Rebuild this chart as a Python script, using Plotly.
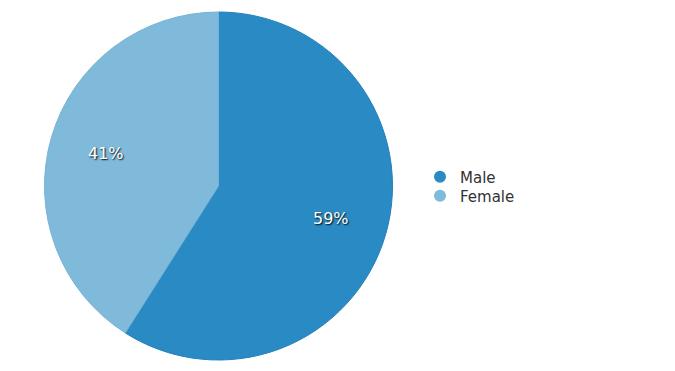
import math
import plotly.graph_objects as go

labels = ["Male", "Female"]
values = [59, 41]
colors = ["#2a8ac4", "#7fbadb"]
edge_colors = ["#2180bb", "#76b3d6"]

W, H = 675, 371
PL, PR, PT, PB = 44, 393, 12, 360  # pie bounding box in px
cx_px = (PL + PR) / 2
cy_px = (PT + PB) / 2
R_px = (PR - PL) / 2
plot_h = H - 12 - 11

fig = go.Figure()
fig.add_trace(go.Pie(
    labels=labels, values=values, sort=False, direction="clockwise", rotation=0,
    marker=dict(colors=colors, line=dict(color=edge_colors, width=1)),
    textinfo="none",
    hoverinfo="label+percent",
    domain=dict(x=[PL / W, PR / W], y=[0, 1]),
    showlegend=False,
))

# percent labels placed at 0.67 of radius along each slice's mid-angle
total = sum(values)
cum = 0
for v in values:
    mid = (cum + v / 2) / total * 2 * math.pi
    cum += v
    r = 0.67 * R_px
    xpx = cx_px + r * math.sin(mid)
    ypx = cy_px - r * math.cos(mid)
    fig.add_annotation(
        x=xpx / W, y=1 - (ypx - 12) / plot_h, xref="paper", yref="paper",
        text=f"{round(v / total * 100)}%", showarrow=False,
        xanchor="center", yanchor="middle",
        font=dict(family="DejaVu Sans", size=16, color="white",
                  shadow="1px 1px 1.5px rgba(0,0,0,0.95)"),
    )

legend_names = ["legend", "legend2"]
legend_y_px = [177, 196]
for lab, col, lg in zip(labels, colors, legend_names):
    fig.add_trace(go.Scatter(x=[None], y=[None], mode="markers", name=lab, legend=lg,
                             marker=dict(symbol="circle", size=16, color=col)))

legend_style = dict(xanchor="left", yanchor="middle",
                    font=dict(family="DejaVu Sans", size=15, color="#333"),
                    itemsizing="constant", bgcolor="rgba(0,0,0,0)")
fig.update_layout(
    width=W, height=H,
    margin=dict(l=0, r=0, t=12, b=11),
    paper_bgcolor="white", plot_bgcolor="white",
    xaxis=dict(visible=False), yaxis=dict(visible=False),
    legend=dict(x=420 / W, y=1 - (legend_y_px[0] - 12) / plot_h, **legend_style),
    legend2=dict(x=420 / W, y=1 - (legend_y_px[1] - 12) / plot_h, **legend_style),
    font=dict(family="DejaVu Sans"),
)
fig.write_html("out.html")
